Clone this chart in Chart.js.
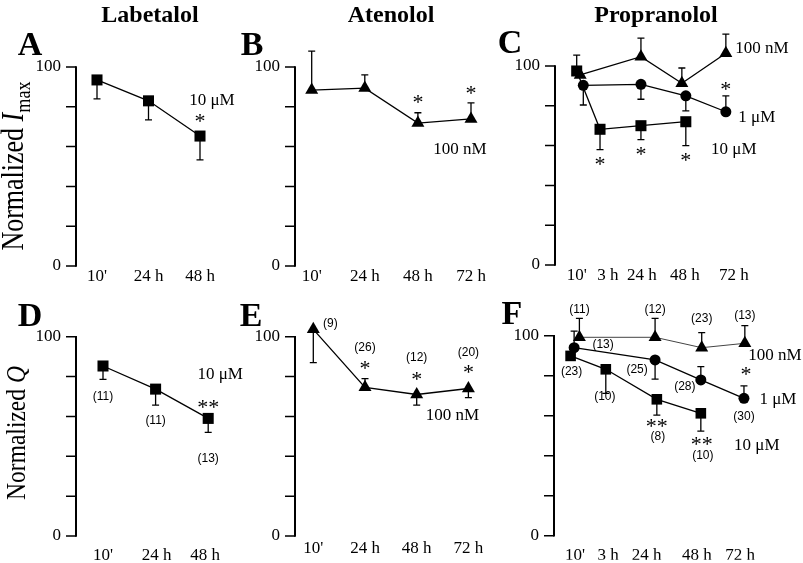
<!DOCTYPE html>
<html>
<head>
<meta charset="utf-8">
<script src="https://cdn.jsdelivr.net/npm/chart.js"></script>
<style>
html, body { margin: 0; padding: 0; background: #fff; }
#fig { position: relative; width: 803px; height: 563px; overflow: hidden;
       font-family: "Liberation Serif", "Times New Roman", serif; color: #000; }
#fig canvas { position: absolute; }
.lbl { position: absolute; transform: translate(-50%, -50%); white-space: nowrap; line-height: 1; }
.head { font-weight: bold; font-size: 24px; }
.letter { font-weight: bold; font-size: 34px; }
.ytitle { transform: translate(-50%, -50%) rotate(-90deg) scale(1, 1.2); }
.ytitle sub { font-size: 0.7em; vertical-align: -0.3em; }
</style>
</head>
<body>
<div id="fig">
  <canvas id="cA"></canvas>
  <canvas id="cB"></canvas>
  <canvas id="cC"></canvas>
  <canvas id="cD"></canvas>
  <canvas id="cE"></canvas>
  <canvas id="cF"></canvas>

  <div class="lbl head" style="left:150px;top:14px">Labetalol</div>
  <div class="lbl head" style="left:391px;top:14px">Atenolol</div>
  <div class="lbl head" style="left:656px;top:14px">Propranolol</div>

  <div class="lbl letter" style="left:30px;top:44px">A</div>
  <div class="lbl letter" style="left:252px;top:44px">B</div>
  <div class="lbl letter" style="left:510px;top:42px">C</div>
  <div class="lbl letter" style="left:30px;top:315px">D</div>
  <div class="lbl letter" style="left:251px;top:315px">E</div>
  <div class="lbl letter" style="left:512px;top:313px">F</div>

  <div class="lbl ytitle" style="left:16px;top:166px;font-size:26px">Normalized <i>I</i><sub>max</sub></div>
  <div class="lbl ytitle" style="left:16px;top:433px;font-size:23.5px">Normalized <i>Q</i></div>
</div>

<script>
// ---------------- data ----------------
// Labetalol 10 uM
const labTimes = ["10'", "24 h", "48 h"];
const labImax = [93.5, 83, 65.3];
const labImaxErr = [84, 73.4, 53.3];      // value where the error bar ends
const labQ = [85.3, 73.7, 59];
const labQErr = [78.6, 65.7, 52];
const labQn = [11, 11, 13];

// Atenolol 100 nM
const atnTimes = ["10'", "24 h", "48 h", "72 h"];
const atnImax = [88.4, 89.4, 71.8, 73.9];
const atnImaxErr = [108, 96, 77, 82];
const atnQ = [103.7, 74.6, 71, 74];
const atnQErr = [87, 79, 65.7, 69.4];
const atnQn = [9, 26, 12, 20];

// Propranolol
const propTimes = ["10'", "3 h", "24 h", "48 h", "72 h"];
// panel C (Imax)
const propImax10uM = [97.5, 68.2, 70, 72];
const propImax10uMErr = [105.5, 58, 63, 60];
const propImax1uM = [90.3, 90.8, 85, 77];
const propImax1uMErr = [80.4, 83.3, 77.4, 85];
const propImax100nM = [95.5, 104.7, 91.3, 106.4];
const propImax100nMErr = [null, 114, 99, 116];
// panel F (Q)
const propQ10uM = [89.9, 83.2, 68.2, 61.2];
const propQ10uMErr = [null, 71.2, 60.3, 52.3];
const propQ10uMn = [23, 10, 8, 10];
const propQ1uM = [94, 87.9, 77.9, 68.7];
const propQ1uMErr = [102.3, 78.3, 84.5, 74.9];
const propQ1uMn = [13, 25, 28, 30];
const propQ100nM = [99.2, 99.2, 94, 96.2];
const propQ100nMErr = [108.7, 108.7, 101.5, 105];
const propQ100nMn = [11, 12, 23, 13];

// time slots along the x axis (plot position of each sample)
const slotsA = [0, 1, 2];
const slotsB = [0, 1, 2, 3];
const tickSlotsC = [0, 0.71, 1.48, 2.46, 3.57];
const slotsC10uM = [0, 0.53, 1.46, 2.48];
const slotsC1uM = [0.15, 1.46, 2.48, 3.39];
const slotsC100nM = [0.08, 1.46, 2.39, 3.39];
const tickSlotsD = [0, 1.02, 1.94];
const tickSlotsF = [0, 0.75, 1.63, 2.77, 3.75];
const slotsF10uM = [-0.1, 0.7, 1.86, 2.86];
const slotsF1uM = [-0.02, 1.82, 2.86, 3.84];
const slotsF100nM = [0.1, 1.82, 2.88, 3.86];

// ---------------- drawing ----------------
const SERIF = '"Liberation Serif", "Times New Roman", serif';
const SANS = '"Liberation Sans", Arial, sans-serif';
const YMAX = 120, YW = 50, XH = 24, RPAD = 8, TICK = 10;
const NOTES = {};
const FONTS = {
  n:    { font: '12px ' + SANS, shift: 0 },
  star: { font: '22px ' + SERIF, shift: 4 },
  conc: { font: '17px ' + SERIF, shift: 0 }
};

// y axis: line from 0 to 100 plus a tick mark at every scale tick up to 100
const axisLine = {
  id: 'axisLine',
  afterDraw(chart) {
    const ys = chart.scales.y, ctx = chart.ctx, x = chart.chartArea.left;
    ctx.save();
    ctx.strokeStyle = '#000';
    ctx.lineWidth = 1.5;
    ctx.beginPath();
    ys.ticks.forEach(t => {
      if (t.value > 100) return;
      const y = ys.getPixelForValue(t.value);
      ctx.moveTo(x - TICK, y); ctx.lineTo(x, y);
    });
    ctx.stroke();
    ctx.lineWidth = 2;
    ctx.beginPath();
    ctx.moveTo(x, ys.getPixelForValue(0) + 0.75);
    ctx.lineTo(x, ys.getPixelForValue(100) - 0.75);
    ctx.stroke();
    ctx.restore();
  }
};

const errorBars = {
  id: 'errorBars',
  beforeDatasetsDraw(chart) {
    const ctx = chart.ctx, xs = chart.scales.x, ys = chart.scales.y;
    ctx.save();
    ctx.strokeStyle = '#000';
    ctx.lineWidth = 1.3;
    chart.data.datasets.forEach(ds => {
      (ds.errEnd || []).forEach((e, i) => {
        if (e == null) return;
        const p = ds.data[i];
        const px = xs.getPixelForValue(p.x);
        const py = ys.getPixelForValue(p.y);
        const pe = ys.getPixelForValue(e);
        ctx.beginPath();
        ctx.moveTo(px, py); ctx.lineTo(px, pe);
        ctx.moveTo(px - 3.5, pe); ctx.lineTo(px + 3.5, pe);
        ctx.stroke();
      });
    });
    ctx.restore();
  }
};

const notes = {
  id: 'notes',
  afterDatasetsDraw(chart) {
    const ctx = chart.ctx, xs = chart.scales.x, ys = chart.scales.y;
    ctx.save();
    ctx.fillStyle = '#000';
    ctx.textAlign = 'center';
    ctx.textBaseline = 'middle';
    (NOTES[chart.canvas.id] || []).forEach(n => {
      const p = chart.data.datasets[n.ds].data[n.i];
      const f = FONTS[n.kind];
      ctx.font = f.font;
      ctx.fillText(n.text, xs.getPixelForValue(p.x) + n.dx, ys.getPixelForValue(p.y) + n.dy + f.shift);
    });
    ctx.restore();
  }
};

function counts(ds, arr, offs) {
  return arr.map((v, i) => ({ ds, i, kind: 'n', text: '(' + v + ')', dx: offs[i][0], dy: offs[i][1] }));
}

function makePanel(id, g, tickPos, tickLabels, sets, noteList) {
  const cv = document.getElementById(id);
  cv.style.left = g.left + 'px'; cv.style.top = g.top + 'px';
  cv.style.width = g.w + 'px'; cv.style.height = g.h + 'px';
  cv.width = g.w; cv.height = g.h;
  const perY = (g.y0 - g.y100) / 100;
  const top = g.y0 - YMAX * perY - g.top;
  const bottom = g.y0 - g.top;
  const left = g.axis - g.left;
  const right = g.w - RPAD;
  NOTES[id] = noteList;

  new Chart(cv, {
    type: 'line',
    data: {
      datasets: sets.map(s => ({
        data: s.x.map((x, i) => ({ x: x, y: s.y[i] })),
        errEnd: s.err,
        borderColor: s.line || '#000',
        borderWidth: s.lw || 1.3,
        pointStyle: s.shape,
        pointRadius: s.r,
        pointHoverRadius: s.r,
        pointBackgroundColor: '#000',
        pointBorderColor: '#000',
        pointBorderWidth: 0,
        tension: 0,
        clip: false
      }))
    },
    options: {
      responsive: false,
      animation: false,
      events: [],
      layout: { padding: { left: left - YW, right: RPAD, top: top, bottom: g.h - bottom - XH } },
      plugins: { legend: { display: false }, tooltip: { enabled: false } },
      scales: {
        x: {
          type: 'linear',
          min: (g.axis - g.slot0) / g.unit,
          max: (g.left + right - g.slot0) / g.unit,
          afterBuildTicks: s => { s.ticks = tickPos.map(v => ({ value: v })); },
          afterFit: s => { s.height = XH; },
          grid: { display: false, drawTicks: false },
          border: { display: false },
          ticks: {
            autoSkip: false, maxRotation: 0, minRotation: 0, padding: g.xpad, color: '#000',
            font: { family: SERIF, size: 17 },
            callback: (v, i) => tickLabels[i]
          }
        },
        y: {
          min: 0, max: YMAX,
          afterBuildTicks: s => { const t = []; for (let v = 0; v <= YMAX; v += 10) t.push({ value: v }); s.ticks = t; },
          afterFit: s => { s.width = YW; },
          grid: { drawOnChartArea: false, drawTicks: true, tickLength: TICK, color: 'rgba(0,0,0,0)' },
          border: { display: false },
          ticks: {
            padding: 5, color: '#000', font: { family: SERIF, size: 17 },
            callback: v => (v % 50 === 0 && v <= 100) ? String(v) : ''
          }
        }
      }
    },
    plugins: [axisLine, errorBars, notes]
  });
}

// A: Labetalol Imax
makePanel('cA', { left: 0, top: 0, w: 260, h: 290, axis: 76, slot0: 97, unit: 51.5, y0: 266, y100: 67, xpad: 0 },
  slotsA, labTimes,
  [{ x: slotsA, y: labImax, err: labImaxErr, shape: 'rect', r: 7.8 }],
  [{ ds: 0, i: 2, kind: 'conc', text: '10 μM', dx: 12, dy: -36 },
   { ds: 0, i: 2, kind: 'star', text: '*', dx: 0, dy: -18 }]);

// B: Atenolol Imax
makePanel('cB', { left: 232, top: 0, w: 298, h: 290, axis: 295, slot0: 311.7, unit: 53.1, y0: 266, y100: 67, xpad: 0 },
  slotsB, atnTimes,
  [{ x: slotsB, y: atnImax, err: atnImaxErr, shape: 'triangle', r: 7.5 }],
  [{ ds: 0, i: 2, kind: 'star', text: '*', dx: 0, dy: -24 },
   { ds: 0, i: 3, kind: 'star', text: '*', dx: 0, dy: -29 },
   { ds: 0, i: 3, kind: 'conc', text: '100 nM', dx: -11, dy: 31 }]);

// C: Propranolol Imax
makePanel('cC', { left: 492, top: 0, w: 311, h: 290, axis: 555, slot0: 576.7, unit: 44, y0: 265, y100: 66, xpad: 0 },
  tickSlotsC, propTimes,
  [{ x: slotsC10uM, y: propImax10uM, err: propImax10uMErr, shape: 'rect', r: 7.8 },
   { x: slotsC1uM, y: propImax1uM, err: propImax1uMErr, shape: 'circle', r: 5.5 },
   { x: slotsC100nM, y: propImax100nM, err: propImax100nMErr, shape: 'triangle', r: 7.5 }],
  [{ ds: 2, i: 3, kind: 'conc', text: '100 nM', dx: 36, dy: -5 },
   { ds: 1, i: 3, kind: 'conc', text: '1 μM', dx: 31, dy: 6 },
   { ds: 0, i: 3, kind: 'conc', text: '10 μM', dx: 48, dy: 28 },
   { ds: 0, i: 1, kind: 'star', text: '*', dx: 0, dy: 32 },
   { ds: 0, i: 2, kind: 'star', text: '*', dx: 0, dy: 26 },
   { ds: 0, i: 3, kind: 'star', text: '*', dx: 0, dy: 35 },
   { ds: 1, i: 3, kind: 'star', text: '*', dx: 0, dy: -26 }]);

// D: Labetalol Q
makePanel('cD', { left: 0, top: 278, w: 260, h: 285, axis: 76, slot0: 103, unit: 52.6, y0: 536, y100: 336.7, xpad: 9 },
  tickSlotsD, labTimes,
  [{ x: slotsA, y: labQ, err: labQErr, shape: 'rect', r: 7.8 }],
  counts(0, labQn, [[0, 31], [0, 32], [0, 40]]).concat([
   { ds: 0, i: 2, kind: 'star', text: '**', dx: 0, dy: -14 },
   { ds: 0, i: 2, kind: 'conc', text: '10 μM', dx: 12, dy: -44 }]));

// E: Atenolol Q
makePanel('cE', { left: 232, top: 278, w: 298, h: 285, axis: 295, slot0: 313.3, unit: 51.7, y0: 536, y100: 336.7, xpad: 2.5 },
  slotsB, atnTimes,
  [{ x: slotsB, y: atnQ, err: atnQErr, shape: 'triangle', r: 7.5 }],
  counts(0, atnQn, [[17, -6], [0, -40], [0, -37], [0, -36]]).concat([
   { ds: 0, i: 1, kind: 'star', text: '*', dx: 0, dy: -22 },
   { ds: 0, i: 2, kind: 'star', text: '*', dx: 0, dy: -18 },
   { ds: 0, i: 3, kind: 'star', text: '*', dx: 0, dy: -19 },
   { ds: 0, i: 3, kind: 'conc', text: '100 nM', dx: -16, dy: 27 }]));

// F: Propranolol Q
makePanel('cF', { left: 492, top: 278, w: 311, h: 285, axis: 554, slot0: 575, unit: 44, y0: 535.7, y100: 335.7, xpad: 10 },
  tickSlotsF, propTimes,
  [{ x: slotsF10uM, y: propQ10uM, err: propQ10uMErr, shape: 'rect', r: 7.5 },
   { x: slotsF1uM, y: propQ1uM, err: propQ1uMErr, shape: 'circle', r: 5.5 },
   { x: slotsF100nM, y: propQ100nM, err: propQ100nMErr, shape: 'triangle', r: 7.5, line: '#444', lw: 1 }],
  counts(2, propQ100nMn, [[0, -28], [0, -28], [0, -29], [0, -28]])
   .concat(counts(1, propQ1uMn, [[29, -3], [-18, 10], [-16, 7], [0, 18]]))
   .concat(counts(0, propQ10uMn, [[1, 16], [-1, 27], [1, 37], [2, 42]]))
   .concat([
   { ds: 2, i: 3, kind: 'conc', text: '100 nM', dx: 30, dy: 12 },
   { ds: 1, i: 3, kind: 'star', text: '*', dx: 2, dy: -27 },
   { ds: 1, i: 3, kind: 'conc', text: '1 μM', dx: 34, dy: 1 },
   { ds: 0, i: 2, kind: 'star', text: '**', dx: 0, dy: 24 },
   { ds: 0, i: 3, kind: 'star', text: '**', dx: 1, dy: 28 },
   { ds: 0, i: 3, kind: 'conc', text: '10 μM', dx: 56, dy: 32 }]));
</script>
</body>
</html>
